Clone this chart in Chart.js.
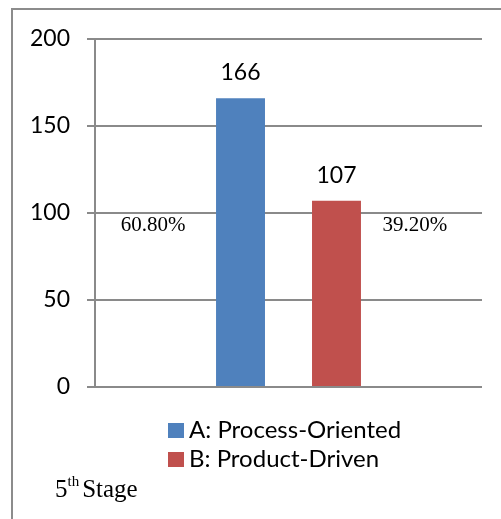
<!DOCTYPE html>
<html>
<head>
<meta charset="utf-8">
<script src="https://cdn.jsdelivr.net/npm/chart.js@4.4.1/dist/chart.umd.min.js"></script>
<style>
  html, body { margin: 0; padding: 0; background: #fff; }
  #wrap { width: 501px; height: 519px; }
</style>
</head>
<body>
<div id="wrap"><canvas id="c" width="501" height="519"></canvas></div>
<script>
// Stage caption (one category) and the two series
const categories = ['5th Stage'];
const seriesNames = ['A: Process-Oriented', 'B: Product-Driven'];
const processOriented = [166];
const productDriven = [107];
const shareLabels = ['60.80%', '39.20%'];
const yTicks = [0, 50, 100, 150, 200];

const COLORS = ['#4F81BD', '#C0504D'];
const GRID = '#8a8a8a';
const SANS = 'Lato, "Open Sans", sans-serif';
const SERIF = '"Liberation Serif", "DejaVu Serif", serif';

// Value labels above bars, share labels beside them, legend, caption and frame
const decorations = {
  id: 'decorations',
  afterDatasetsDraw(chart) {
    const { ctx, chartArea, scales } = chart;
    ctx.save();

    // value labels
    ctx.fillStyle = '#000';
    ctx.font = '23px ' + SANS;
    ctx.textAlign = 'center';
    ctx.textBaseline = 'alphabetic';
    chart.data.datasets.forEach((ds, i) => {
      const bar = chart.getDatasetMeta(i).data[0];
      ctx.fillText(String(ds.data[0]), bar.x, bar.y - 18);
    });

    // share labels beside the bars
    ctx.font = '21px ' + SERIF;
    const yBase = scales.y.getPixelForValue(100) + 18;
    const b0 = chart.getDatasetMeta(0).data[0];
    const b1 = chart.getDatasetMeta(1).data[0];
    ctx.fillText(shareLabels[0], b0.x - b0.width / 2 - 63, yBase);
    ctx.fillText(shareLabels[1], b1.x + b1.width / 2 + 54, yBase);

    // legend, stacked vertically
    ctx.textAlign = 'left';
    ctx.font = '24px ' + SANS;
    const lx = chartArea.left + 73;
    const ly = chartArea.bottom + 36;
    chart.data.datasets.forEach((ds, i) => {
      const top = ly + i * 29;
      ctx.fillStyle = ds.backgroundColor;
      ctx.fillRect(lx, top, 16, 15);
      ctx.fillStyle = '#000';
      ctx.fillText(ds.label, lx + 21, top + 15);
    });

    // caption with superscript ordinal
    const cap = categories[0];
    const m = cap.match(/^(\d+)(st|nd|rd|th)\s+(.*)$/);
    let cx = 55;
    const cy = 497;
    ctx.font = '25px ' + SERIF;
    ctx.fillText(m[1], cx, cy);
    cx += ctx.measureText(m[1]).width;
    ctx.font = '15px ' + SERIF;
    ctx.fillText(m[2], cx, cy - 11);
    cx += ctx.measureText(m[2]).width + 3;
    ctx.font = '25px ' + SERIF;
    ctx.fillText(m[3], cx, cy);

    // frame
    ctx.strokeStyle = '#8c8c8c';
    ctx.lineWidth = 2;
    ctx.beginPath();
    ctx.moveTo(12, chart.height + 2);
    ctx.lineTo(12, 9);
    ctx.lineTo(chart.width + 2, 9);
    ctx.stroke();

    ctx.restore();
  }
};

function build() {
  new Chart(document.getElementById('c'), {
    type: 'bar',
    data: {
      labels: categories,
      datasets: [
        { label: seriesNames[0], data: processOriented, backgroundColor: COLORS[0],
          categoryPercentage: 0.496, barPercentage: 0.51 },
        { label: seriesNames[1], data: productDriven, backgroundColor: COLORS[1],
          categoryPercentage: 0.496, barPercentage: 0.51 }
      ]
    },
    options: {
      responsive: false,
      animation: false,
      devicePixelRatio: 1,
      layout: { padding: { left: 0, top: 39, right: 19, bottom: 132 } },
      plugins: {
        legend: { display: false },
        tooltip: { enabled: false },
        title: { display: false }
      },
      scales: {
        x: { display: false },
        y: {
          min: yTicks[0],
          max: yTicks[yTicks.length - 1],
          afterBuildTicks(scale) { scale.ticks = yTicks.map(v => ({ value: v })); },
          afterFit(scale) { scale.width = 95; },
          ticks: { color: '#000', font: { family: SANS, size: 23 }, padding: 17 },
          grid: { color: GRID, lineWidth: 2, tickLength: 8, drawTicks: true },
          border: { display: true, color: GRID, width: 2 }
        }
      }
    },
    plugins: [decorations]
  });
}

Promise.all([
  document.fonts.load('23px Lato'),
  document.fonts.load('21px "Liberation Serif"')
]).catch(() => {}).then(build);
</script>
</body>
</html>
